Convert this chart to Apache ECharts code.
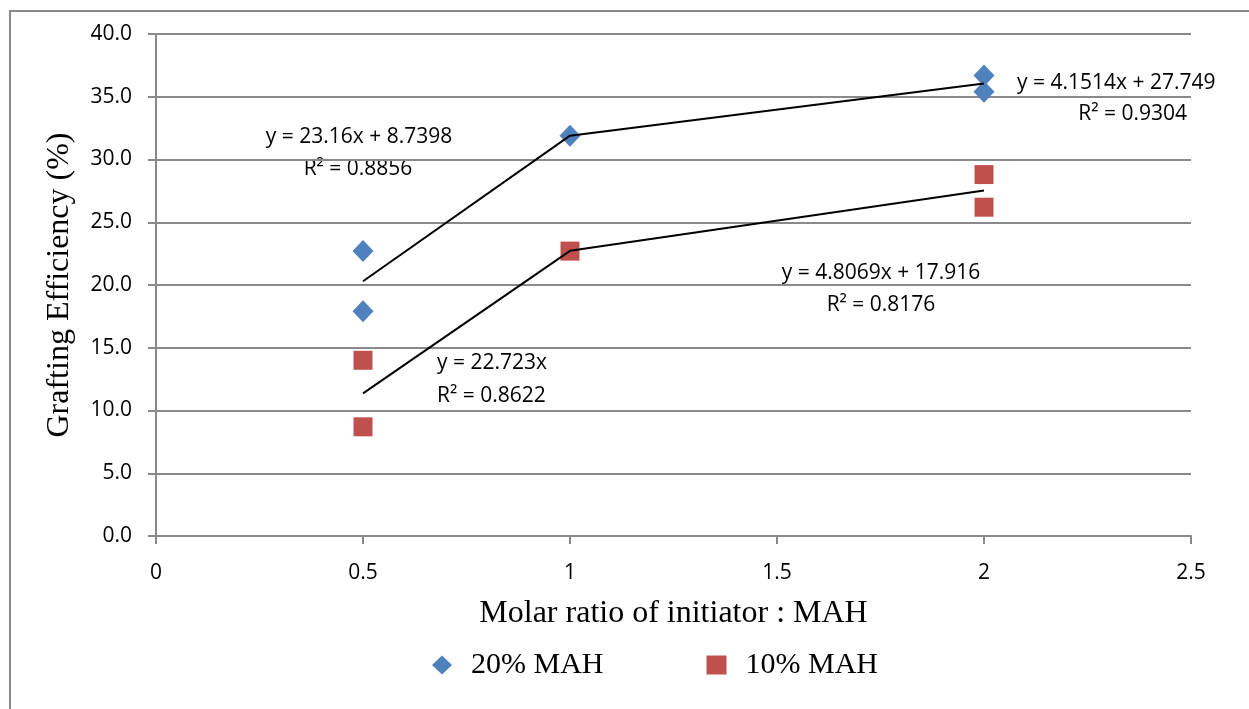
<!DOCTYPE html>
<html>
<head>
<meta charset="utf-8">
<script src="https://cdn.jsdelivr.net/npm/echarts@6/dist/echarts.min.js"></script>
<style>
  html, body { margin: 0; padding: 0; background: #fff; }
  #chart { width: 1249px; height: 709px; }
</style>
</head>
<body>
<div id="chart"></div>
<script>
// measured points
var x20 = [0.5, 0.5, 1, 2, 2];
var y20 = [22.7, 17.9, 31.9, 36.7, 35.4];
var x10 = [0.5, 0.5, 1, 2, 2];
var y10 = [14.0, 8.7, 22.7, 28.8, 26.2];

// trend segments
var trendX = [0.5, 1, 2];
var trend20 = [20.3, 31.9, 36.05];
var trend10 = [11.36, 22.72, 27.53];

var black = '#000';
var gridColor = '#8a8a8a';
var labelFont = 'Open Sans';
var serifFont = 'Liberation Serif';

function pairs(xs, ys) {
    var out = [];
    for (var i = 0; i < xs.length; i++) {
        out.push([xs[i], ys[i]]);
    }
    return out;
}

/* equation labels, x/y = anchor point */
function eqText(x, y, txt, align) {
    return {
        type: 'text',
        x: x, y: y,
        silent: true,
        style: {
            text: txt,
            fontSize: 21,
            fontFamily: labelFont,
            fill: black,
            align: align || 'left',
            verticalAlign: 'middle'
        }
    };
}

var chart = echarts.init(document.getElementById('chart'));

var option = {
    animation: false,
    grid: { left: 156, right: 58, top: 34, bottom: 173 },
    xAxis: {
        type: 'value',
        min: 0, max: 2.5, interval: 0.5,
        name: 'Molar ratio of initiator : MAH',
        nameLocation: 'middle',
        nameGap: 62,
        nameTextStyle: { fontFamily: serifFont, fontSize: 32, color: black },
        axisLine: { lineStyle: { color: gridColor, width: 2 } },
        axisTick: { show: true, length: 8, lineStyle: { color: gridColor, width: 2 } },
        axisLabel: { fontFamily: labelFont, fontSize: 21, color: black, margin: 27 },
        splitLine: { show: false }
    },
    yAxis: {
        type: 'value',
        min: 0, max: 40, interval: 5,
        name: 'Grafting Efficiency (%)',
        nameLocation: 'middle',
        nameGap: 80,
        nameTextStyle: { fontFamily: serifFont, fontSize: 32, color: black },
        axisLine: { show: true, lineStyle: { color: gridColor, width: 2 } },
        axisTick: { show: true, length: 8, lineStyle: { color: gridColor, width: 2 } },
        axisLabel: {
            fontFamily: labelFont, fontSize: 21, color: black, margin: 24,
            formatter: function (v) { return v.toFixed(1); }
        },
        splitLine: { show: true, lineStyle: { color: gridColor, width: 2 } }
    },
    legend: {
        top: 645,
        left: 427,
        itemGap: 103,
        itemWidth: 20,
        itemHeight: 19,
        textStyle: { fontFamily: serifFont, fontSize: 30, color: black, padding: [0, 0, 0, 14] },
        data: [
            { name: '20% MAH', icon: 'diamond' },
            { name: '10% MAH', icon: 'rect' }
        ]
    },
    graphic: [
        {
            type: 'rect',
            shape: { x: 10, y: 11, width: 1260, height: 720 },
            style: { fill: 'none', stroke: '#888', lineWidth: 2 },
            silent: true
        },
        eqText(359, 137, 'y = 23.16x + 8.7398', 'center'),
        eqText(358, 169, 'R² = 0.8856', 'center'),
        eqText(1017, 83, 'y = 4.1514x + 27.749'),
        eqText(1187, 114, 'R² = 0.9304', 'right'),
        eqText(881, 273, 'y = 4.8069x + 17.916', 'center'),
        eqText(881, 305, 'R² = 0.8176', 'center'),
        eqText(437, 363, 'y = 22.723x'),
        eqText(437, 396, 'R² = 0.8622')
    ],
    series: [
        {
            name: 'trend20',
            type: 'line',
            data: pairs(trendX, trend20),
            symbol: 'none',
            lineStyle: { color: black, width: 2 },
            z: 3
        },
        {
            name: 'trend10',
            type: 'line',
            data: pairs(trendX, trend10),
            symbol: 'none',
            lineStyle: { color: black, width: 2 },
            z: 3
        },
        {
            name: '20% MAH',
            type: 'scatter',
            symbol: 'diamond',
            symbolSize: [21, 22],
            itemStyle: { color: '#4f81bd', opacity: 1 },
            data: pairs(x20, y20),
            z: 2
        },
        {
            name: '10% MAH',
            type: 'scatter',
            symbol: 'rect',
            symbolSize: 19,
            itemStyle: { color: '#c0504d', opacity: 1 },
            data: pairs(x10, y10),
            z: 2
        }
    ]
};

chart.setOption(option);
</script>
</body>
</html>
